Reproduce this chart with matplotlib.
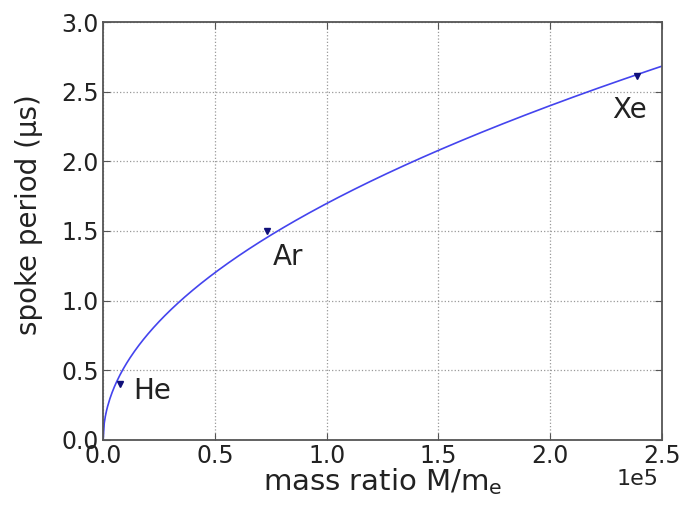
import numpy as np
import matplotlib.pyplot as plt

plt.rcParams['font.family'] = 'DejaVu Sans'
plt.rcParams['mathtext.default'] = 'regular'

gases = ['He', 'Ar', 'Xe']
mass_ratio = [0.076e5, 0.733e5, 2.39e5]
spoke_period = [0.40, 1.50, 2.61]
label_x = [0.135e5, 0.76e5, 2.28e5]
label_y = [0.35, 1.31, 2.37]

# least squares fit of T = a * sqrt(M/m_e)
m = np.array(mass_ratio)
t = np.array(spoke_period)
a = np.sum(t * np.sqrt(m)) / np.sum(m)
m_fit = np.linspace(0, 2.5e5, 500)
t_fit = a * np.sqrt(m_fit)

fig = plt.figure(figsize=(6.83, 5.15), dpi=100)
ax = fig.add_axes([0.151, 0.146, 0.818, 0.811])

ax.plot(m_fit, t_fit, color='#4444ee', lw=1.2)
ax.plot(m, t, 'v', color='#10107a', ms=5, mec='#10107a')
for g, x, y in zip(gases, label_x, label_y):
    ax.text(x, y, g, fontsize=20, va='center', ha='left', color='#222222')

xticks = np.arange(0, 2.51e5, 0.5e5)
ax.set_xlim(0, 2.5e5)
ax.set_ylim(0, 3.0)
ax.set_xticks(xticks)
ax.set_xticklabels(['%.1f' % (v / 1e5) for v in xticks])
ax.set_yticks(np.arange(0, 3.01, 0.5))
ax.text(0.995, -0.093, '1e5', transform=ax.transAxes, ha='right', va='center',
        fontsize=16, color='#222222')
ax.grid(True, linestyle=':', color='#999999', lw=0.9)
ax.tick_params(direction='in', top=True, right=True, labelsize=17,
               length=5, color='#555555', labelcolor='#222222', pad=3)
for s in ax.spines.values():
    s.set_color('#555555')
    s.set_linewidth(1.3)

ax.set_xlabel('mass ratio M/m$_e$', fontsize=21, color='#222222', labelpad=-1)
ax.set_ylabel('spoke period (μs)', fontsize=20, color='#222222')
ax.yaxis.set_label_coords(-0.107, 0.54)

fig.savefig('out.png', dpi=100)
